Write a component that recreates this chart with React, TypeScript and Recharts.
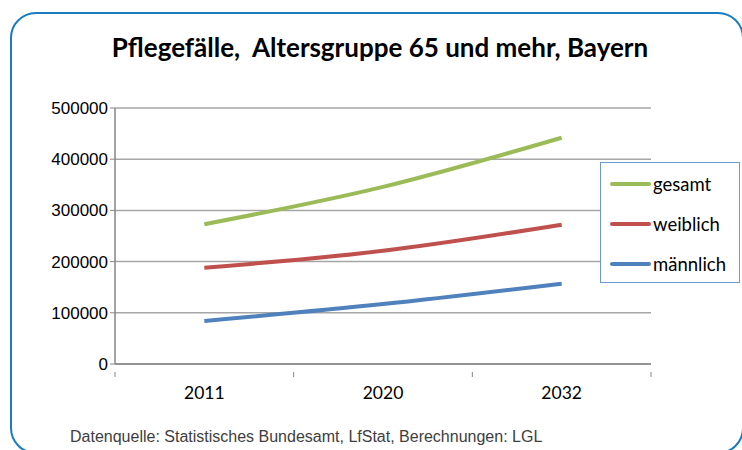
import { LineChart, Line, XAxis, YAxis, CartesianGrid } from "recharts"

const years = ["2011", "2020", "2032"]
const gesamt = [273000, 346000, 442000]
const weiblich = [188000, 221000, 272000]
const maennlich = [84000, 117000, 157000]
const yTicks = [0, 100000, 200000, 300000, 400000, 500000]

const seriesInfo = [
  { key: "gesamt", name: "gesamt", color: "#9BBB59" },
  { key: "weiblich", name: "weiblich", color: "#C0504D" },
  { key: "maennlich", name: "männlich", color: "#4F81BD" },
]

const data = years.map((year, i) => ({
  year,
  gesamt: gesamt[i],
  weiblich: weiblich[i],
  maennlich: maennlich[i],
}))

const W = 742
const H = 450
const margin = { top: 108, right: 91, left: 55, bottom: 56 }
const yAxisWidth = 60
const bandHalf = (W - margin.left - yAxisWidth - margin.right) / years.length / 2

const XTick = ({ x, y, payload, index }: any) => {
  const last = index === years.length - 1
  return (
    <g>
      <line x1={x - bandHalf} x2={x - bandHalf} y1={y} y2={y + 5} stroke="#868686" />
      {last && <line x1={x + bandHalf} x2={x + bandHalf} y1={y} y2={y + 5} stroke="#868686" />}
      <text x={x} y={y + 27} textAnchor="middle" fontFamily="Lato" fontSize={17.5} fill="#000">
        {payload.value}
      </text>
    </g>
  )
}

export default function App() {
  return (
    <div style={{ position: "absolute", left: 0, top: 0, width: W, height: H, overflow: "hidden", background: "#fff" }}>
      <div
        style={{
          position: "absolute",
          left: 10,
          top: 12,
          width: 734,
          height: 442,
          border: "2px solid #1A7BC0",
          borderRadius: 26,
          boxSizing: "border-box",
        }}
      />
      <div
        style={{
          position: "absolute",
          left: 0,
          width: 760,
          top: 31,
          textAlign: "center",
          fontFamily: "Lato",
          fontWeight: 700,
          fontSize: 26,
          color: "#000",
          whiteSpace: "pre",
        }}
      >
        {"Pflegefälle,  Altersgruppe 65 und mehr, Bayern"}
      </div>
      <div style={{ position: "absolute", left: 0, top: 0 }}>
        <LineChart width={W} height={H} data={data} margin={margin}>
          <CartesianGrid vertical={false} stroke="#A6A6A6" strokeWidth={1.5} />
          <XAxis
            dataKey="year"
            tick={<XTick />}
            tickLine={false}
            axisLine={{ stroke: "#868686", strokeWidth: 1.5 }}
            height={30}
            interval={0}
            padding={{ left: bandHalf, right: bandHalf }}
          />
          <YAxis
            domain={[0, 500000]}
            ticks={yTicks}
            width={yAxisWidth}
            tickSize={5}
            tickMargin={2}
            tickLine={{ stroke: "#868686" }}
            axisLine={{ stroke: "#868686", strokeWidth: 1.5 }}
            tick={{ fontFamily: "Liberation Sans", fontSize: 17, fill: "#000" }}
          />
          {seriesInfo.map((s) => (
            <Line
              key={s.key}
              type="monotone"
              dataKey={s.key}
              name={s.name}
              stroke={s.color}
              strokeWidth={4}
              dot={false}
              activeDot={false}
              isAnimationActive={false}
            />
          ))}
        </LineChart>
      </div>
      <div
        style={{
          position: "absolute",
          left: 600,
          top: 162,
          width: 140,
          height: 121,
          border: "1px solid #6C9BD2",
          background: "#fff",
          boxSizing: "border-box",
          padding: "1px 0 0 9px",
        }}
      >
        {seriesInfo.map((s) => (
          <div key={s.key} style={{ display: "flex", alignItems: "center", height: 40 }}>
            <div style={{ width: 41, height: 4, background: s.color, borderRadius: 2 }} />
            <span style={{ fontFamily: "Lato", fontSize: 18.5, color: "#000", marginLeft: 2 }}>{s.name}</span>
          </div>
        ))}
      </div>
      <div
        style={{
          position: "absolute",
          left: 70,
          top: 428,
          fontFamily: "'Liberation Sans Narrow', 'Liberation Sans'",
          fontSize: 16,
          color: "#404040",
          whiteSpace: "nowrap",
        }}
      >
        Datenquelle: Statistisches Bundesamt, LfStat, Berechnungen: LGL
      </div>
    </div>
  )
}
